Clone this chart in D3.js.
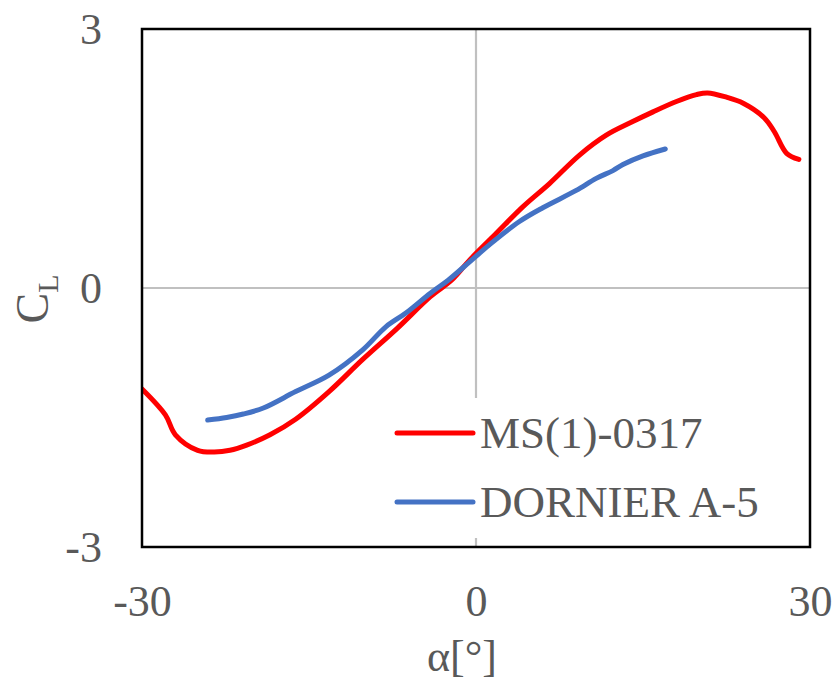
<!DOCTYPE html>
<html>
<head>
<meta charset="utf-8">
<script src="https://cdn.jsdelivr.net/npm/d3@7"></script>
<style>
  body { margin: 0; background: #fff; }
  svg { display: block; }
  text { font-family: "Liberation Serif", "Times New Roman", serif; fill: #595959; }
</style>
</head>
<body>
<svg id="chart" width="837" height="682"></svg>
<script>
// ---- data ----
const seriesNames = ["MS(1)-0317", "DORNIER A-5"];
const msAlpha = [-30, -27.9, -27.0, -25.0, -23.5, -22.1, -20.6, -18.5, -16.2, -13.2, -10.2, -7.1, -4.1, -2.2, -0.6, 1.8, 4.2, 6.6, 9.3, 11.7, 13.8, 15.9, 18.0, 19.8, 20.8, 22.5, 24.0, 25.9, 26.8, 27.9, 29.0];
const msCL    = [-1.17, -1.47, -1.70, -1.88, -1.90, -1.88, -1.82, -1.70, -1.52, -1.20, -0.83, -0.47, -0.10, 0.09, 0.32, 0.63, 0.94, 1.21, 1.54, 1.77, 1.91, 2.04, 2.16, 2.24, 2.26, 2.21, 2.14, 1.97, 1.81, 1.56, 1.49];
const doAlpha = [-24.1, -22.4, -20.9, -19.1, -16.2, -13.2, -10.2, -8.1, -6.3, -4.1, -2.5, -0.6, 1.2, 3.9, 6.0, 9.0, 10.8, 12.3, 13.2, 15.0, 17.0];
const doCL    = [-1.53, -1.50, -1.46, -1.39, -1.20, -1.01, -0.72, -0.45, -0.29, -0.06, 0.09, 0.30, 0.50, 0.77, 0.93, 1.13, 1.27, 1.36, 1.43, 1.53, 1.61];
const xTicks = [-30, 0, 30];
const yTicks = [-3, 0, 3];
const colors = ["#ff0000", "#4472c4"];

// ---- layout ----
const svg = d3.select("#chart");
const pL = 142, pR = 810, pT = 29, pB = 547;
const x = d3.scaleLinear().domain([-30, 30]).range([pL, pR]);
const y = d3.scaleLinear().domain([-3, 3]).range([pB, pT]);

// gridlines at zero
svg.append("line").attr("x1", x(0)).attr("x2", x(0)).attr("y1", pT).attr("y2", pB)
  .attr("stroke", "#c0c0c0").attr("stroke-width", 2.2);
svg.append("line").attr("x1", pL).attr("x2", pR).attr("y1", y(0)).attr("y2", y(0))
  .attr("stroke", "#c0c0c0").attr("stroke-width", 2.2);

// series
const series = [
  d3.zip(msAlpha, msCL),
  d3.zip(doAlpha, doCL)
];
const line = d3.line().x(d => x(d[0])).y(d => y(d[1])).curve(d3.curveCatmullRom.alpha(0.5));
svg.append("clipPath").attr("id", "clip").append("rect")
  .attr("x", pL).attr("y", pT).attr("width", pR - pL).attr("height", pB - pT);
series.forEach((s, i) => {
  svg.append("path").datum(s).attr("d", line)
    .attr("fill", "none").attr("stroke", colors[i]).attr("stroke-width", 5)
    .attr("stroke-linecap", "round").attr("stroke-linejoin", "round")
    .attr("clip-path", "url(#clip)");
});

// legend (white background covers grid)
const lg = svg.append("g");
lg.append("rect").attr("x", 385).attr("y", 398).attr("width", 405).attr("height", 140).attr("fill", "#fff");
seriesNames.forEach((n, i) => {
  const ly = 433 + i * 69;
  lg.append("line").attr("x1", 397).attr("x2", 473).attr("y1", ly).attr("y2", ly)
    .attr("stroke", colors[i]).attr("stroke-width", 5).attr("stroke-linecap", "round");
  lg.append("text").attr("x", 480).attr("y", ly + 15).attr("font-size", 45).text(n);
});

// frame
svg.append("rect").attr("x", pL).attr("y", pT).attr("width", pR - pL).attr("height", pB - pT)
  .attr("fill", "none").attr("stroke", "#000").attr("stroke-width", 2.5);

// axes
const fmt = d => String(d);
const xAxis = d3.axisBottom(x).tickValues(xTicks).tickSize(0).tickPadding(38).tickFormat(fmt);
const gx = svg.append("g").attr("transform", `translate(0,${pB})`).call(xAxis);
gx.select(".domain").remove();
gx.selectAll("text").attr("font-size", 44).attr("font-family", "Liberation Serif").attr("fill", "#595959");

const yAxis = d3.axisLeft(y).tickValues(yTicks).tickSize(0).tickPadding(40).tickFormat(fmt);
const gy = svg.append("g").attr("transform", `translate(${pL},0)`).call(yAxis);
gy.select(".domain").remove();
gy.selectAll("text").attr("font-size", 44).attr("font-family", "Liberation Serif").attr("fill", "#595959");

// axis titles
svg.append("text").attr("x", 462).attr("y", 671).attr("text-anchor", "middle")
  .attr("font-size", 44).text("α[°]");
const yt = svg.append("text").attr("transform", "translate(48,299) rotate(-90)")
  .attr("text-anchor", "middle").attr("font-size", 46);
yt.append("tspan").text("C");
yt.append("tspan").attr("font-size", 30).attr("dy", 10).text("L");
</script>
</body>
</html>
